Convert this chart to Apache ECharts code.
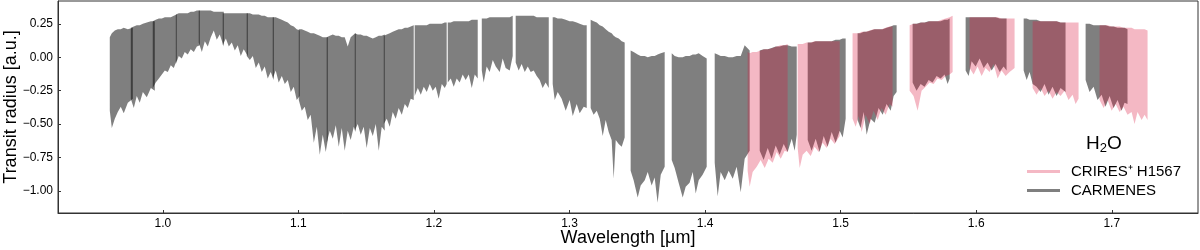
<!DOCTYPE html>
<html><head><meta charset="utf-8">
<script src="https://cdn.jsdelivr.net/npm/echarts@6/dist/echarts.min.js"></script>
<style>html,body{margin:0;padding:0;background:#fff}#c{width:1200px;height:250px}</style>
</head><body><div id="c"></div>
<script>
// CARMENES echelle orders: wavelength samples [µm], upper and lower envelope [a.u.]
const carmenesWl = [
 [0.9609,0.9624,0.9646,0.9668,0.9690,0.9712,0.9742,0.9779],
 [0.9764,0.9786,0.9808,0.9830,0.9853,0.9882,0.9912,0.9941],
 [0.9926,0.9948,0.9971,0.9993,1.0015,1.0037,1.0059,1.0081,1.0103],
 [1.0096,1.0118,1.0140,1.0162,1.0184,1.0206,1.0229,1.0251,1.0273],
 [1.0265,1.0288,1.0310,1.0332,1.0354,1.0376,1.0398,1.0420,1.0450],
 [1.0442,1.0465,1.0487,1.0509,1.0531,1.0553,1.0575,1.0597,1.0627],
 [1.0619,1.0642,1.0664,1.0686,1.0708,1.0730,1.0752,1.0774,1.0796,1.0819],
 [1.0811,1.0833,1.0855,1.0878,1.0900,1.0922,1.0944,1.0966,1.0988,1.1010],
 [1.1003,1.1025,1.1047,1.1069,1.1091,1.1114,1.1136,1.1158,1.1180,1.1202,1.1217],
 [1.1209,1.1232,1.1254,1.1276,1.1298,1.1320,1.1342,1.1364,1.1386,1.1409,1.1423],
 [1.1416,1.1438,1.1460,1.1482,1.1504,1.1527,1.1549,1.1571,1.1593,1.1615,1.1637],
 [1.1630,1.1652,1.1674,1.1696,1.1718,1.1740,1.1763,1.1785,1.1807,1.1829,1.1851],
 [1.1858,1.1881,1.1903,1.1925,1.1947,1.1969,1.1991,1.2013,1.2035,1.2058,1.2080,1.2094],
 [1.2102,1.2124,1.2146,1.2168,1.2190,1.2212,1.2234,1.2257,1.2279,1.2301,1.2323],
 [1.2353,1.2367,1.2389,1.2411,1.2434,1.2456,1.2485,1.2507,1.2529,1.2559,1.2581],
 [1.2603,1.2625,1.2647,1.2670,1.2692,1.2714,1.2736,1.2758,1.2780,1.2802,1.2824,1.2847],
 [1.2876,1.2891,1.2913,1.2942,1.2972,1.3001,1.3024,1.3053,1.3075,1.3105,1.3127],
 [1.3156,1.3178,1.3201,1.3223,1.3245,1.3267,1.3289,1.3311,1.3326,1.3341,1.3363,1.3385,1.3407],
 [1.3451,1.3473,1.3503,1.3525,1.3555,1.3577,1.3606,1.3628,1.3650,1.3673,1.3702],
 [1.3754,1.3776,1.3805,1.3835,1.3857,1.3886,1.3909,1.3931,1.3953,1.3982,1.4012],
 [1.4071,1.4093,1.4115,1.4145,1.4174,1.4204,1.4233,1.4263,1.4292,1.4329],
 [1.4403,1.4432,1.4462,1.4491,1.4521,1.4550,1.4580,1.4609,1.4639,1.4661,1.4676],
 [1.4757,1.4786,1.4816,1.4845,1.4875,1.4904,1.4934,1.4963,1.4993,1.5015,1.5037],
 [1.5125,1.5147,1.5170,1.5192,1.5221,1.5251,1.5280,1.5310,1.5339,1.5369,1.5391,1.5413],
 [1.5531,1.5560,1.5590,1.5619,1.5649,1.5678,1.5708,1.5737,1.5767,1.5789,1.5804],
 [1.5922,1.5944,1.5966,1.5996,1.6025,1.6055,1.6084,1.6114,1.6143,1.6173,1.6202,1.6224],
 [1.6350,1.6372,1.6394,1.6416,1.6445,1.6475,1.6504,1.6534,1.6563,1.6593,1.6622,1.6659],
 [1.6807,1.6836,1.6866,1.6895,1.6925,1.6954,1.6984,1.7013,1.7043,1.7072,1.7094,1.7116]
];
const carmenesTop = [
 [0.15,0.18,0.20,0.21,0.21,0.22,0.21,0.22],
 [0.22,0.23,0.24,0.24,0.25,0.26,0.27,0.27],
 [0.27,0.28,0.29,0.29,0.30,0.30,0.30,0.31,0.32],
 [0.32,0.33,0.33,0.33,0.33,0.34,0.34,0.35,0.35],
 [0.35,0.35,0.35,0.35,0.35,0.34,0.34,0.34,0.34],
 [0.33,0.33,0.33,0.33,0.33,0.33,0.33,0.33,0.33],
 [0.33,0.33,0.32,0.32,0.32,0.31,0.31,0.30,0.30,0.30],
 [0.30,0.30,0.29,0.28,0.27,0.26,0.24,0.23,0.21,0.20],
 [0.21,0.21,0.20,0.19,0.18,0.18,0.17,0.16,0.15,0.15,0.15],
 [0.15,0.16,0.17,0.16,0.16,0.15,0.15,0.08,0.15,0.17,0.18],
 [0.18,0.17,0.17,0.16,0.16,0.15,0.14,0.15,0.16,0.16,0.17],
 [0.16,0.17,0.18,0.19,0.20,0.21,0.21,0.22,0.22,0.23,0.24],
 [0.24,0.24,0.24,0.24,0.24,0.25,0.25,0.25,0.25,0.25,0.26,0.26],
 [0.26,0.26,0.27,0.27,0.27,0.27,0.27,0.27,0.28,0.28,0.28],
 [0.29,0.29,0.29,0.30,0.30,0.30,0.30,0.30,0.30,0.30,0.31],
 [0.31,0.31,0.31,0.31,0.31,0.31,0.31,0.30,0.30,0.30,0.30,0.30],
 [0.30,0.30,0.29,0.29,0.28,0.27,0.27,0.26,0.25,0.24,0.24],
 [0.28,0.27,0.26,0.24,0.23,0.21,0.19,0.18,0.16,0.15,0.14,0.12,0.11],
 [0.05,0.04,0.02,0.01,0.01,0.00,0.01,0.01,0.02,0.03,0.04],
 [0.03,0.01,0.00,0.00,0.01,0.01,0.02,0.02,0.03,0.01,-0.01],
 [0.03,0.02,0.01,0.01,0.00,0.00,0.01,0.01,0.09,0.05],
 [0.05,0.06,0.06,0.07,0.08,0.08,0.09,0.09,0.08,0.08,0.08],
 [0.11,0.11,0.12,0.12,0.12,0.12,0.12,0.13,0.13,0.14,0.14],
 [0.18,0.18,0.19,0.19,0.20,0.21,0.21,0.21,0.22,0.23,0.24,0.24],
 [0.25,0.25,0.26,0.26,0.27,0.27,0.27,0.27,0.28,0.28,0.29],
 [0.30,0.30,0.30,0.30,0.30,0.30,0.30,0.30,0.30,0.29,0.29,0.29],
 [0.29,0.29,0.28,0.28,0.28,0.27,0.27,0.27,0.27,0.27,0.26,0.26],
 [0.25,0.25,0.24,0.24,0.24,0.24,0.23,0.23,0.22,0.22,0.22,0.21]
];
const carmenesBot = [
 [-0.40,-0.53,-0.46,-0.41,-0.37,-0.42,-0.34,-0.31],
 [-0.31,-0.38,-0.29,-0.34,-0.26,-0.30,-0.23,-0.25],
 [-0.23,-0.19,-0.16,-0.13,-0.10,-0.11,-0.06,-0.08,-0.02],
 [-0.05,0.01,-0.01,0.04,0.02,0.06,0.04,0.08,0.09],
 [0.11,0.04,0.12,0.08,0.15,0.20,0.13,0.17,0.08],
 [0.09,0.14,0.08,0.11,0.05,0.09,0.01,0.06,0.01],
 [0.01,-0.02,0.01,-0.08,-0.04,-0.11,-0.07,-0.16,-0.11,-0.17],
 [-0.16,-0.10,-0.19,-0.14,-0.20,-0.17,-0.26,-0.22,-0.32,-0.29],
 [-0.32,-0.40,-0.37,-0.47,-0.43,-0.64,-0.52,-0.73,-0.58,-0.71,-0.62],
 [-0.64,-0.55,-0.61,-0.51,-0.67,-0.53,-0.70,-0.55,-0.62,-0.52,-0.56],
 [-0.55,-0.50,-0.58,-0.52,-0.68,-0.53,-0.59,-0.50,-0.70,-0.52,-0.55],
 [-0.50,-0.46,-0.52,-0.41,-0.46,-0.38,-0.43,-0.35,-0.38,-0.31,-0.32],
 [-0.29,-0.23,-0.28,-0.22,-0.26,-0.20,-0.25,-0.22,-0.31,-0.20,-0.23,-0.20],
 [-0.19,-0.16,-0.22,-0.16,-0.19,-0.13,-0.17,-0.13,-0.23,-0.13,-0.16],
 [-0.10,-0.19,-0.07,-0.11,-0.02,-0.07,-0.11,-0.01,-0.08,-0.10,0.01],
 [-0.04,-0.10,-0.05,-0.11,-0.07,-0.11,-0.10,-0.14,-0.17,-0.23,-0.19,-0.23],
 [-0.20,-0.32,-0.26,-0.31,-0.40,-0.32,-0.44,-0.35,-0.42,-0.37,-0.38],
 [-0.38,-0.43,-0.40,-0.46,-0.59,-0.47,-0.56,-0.62,-0.91,-0.62,-0.65,-0.67,-0.60],
 [-0.85,-0.92,-1.05,-0.96,-0.92,-0.86,-0.96,-0.90,-1.09,-0.88,-0.82],
 [-0.77,-0.83,-0.94,-1.05,-0.97,-0.94,-0.86,-1.02,-0.92,-0.88,-0.82],
 [-0.79,-1.04,-0.86,-0.92,-0.85,-0.91,-0.82,-1.01,-0.76,-0.70],
 [-0.70,-0.77,-0.68,-0.76,-0.66,-0.73,-0.65,-0.71,-0.61,-0.70,-0.58],
 [-0.62,-0.70,-0.61,-0.71,-0.59,-0.67,-0.56,-0.64,-0.55,-0.60,-0.46],
 [-0.47,-0.53,-0.41,-0.58,-0.46,-0.49,-0.38,-0.43,-0.35,-0.40,-0.29,-0.26],
 [-0.19,-0.25,-0.20,-0.22,-0.17,-0.19,-0.14,-0.16,-0.13,-0.20,-0.16],
 [-0.10,-0.14,-0.03,-0.07,-0.01,-0.08,-0.04,-0.10,-0.05,-0.11,-0.07,-0.10],
 [-0.10,-0.17,-0.11,-0.20,-0.22,-0.26,-0.20,-0.28,-0.22,-0.29,-0.23,-0.26],
 [-0.17,-0.26,-0.22,-0.32,-0.28,-0.37,-0.29,-0.38,-0.32,-0.40,-0.34,-0.35]
];
// CRIRES+ H1567 orders
const criresWl = [
 [1.4314,1.4329,1.4351,1.4381,1.4410,1.4440,1.4469,1.4499,1.4528,1.4558,1.4587,1.4609],
 [1.4683,1.4698,1.4720,1.4749,1.4779,1.4808,1.4838,1.4867,1.4897,1.4926,1.4956,1.4993],
 [1.5088,1.5111,1.5133,1.5155,1.5184,1.5214,1.5243,1.5273,1.5302,1.5332,1.5361,1.5383],
 [1.5509,1.5538,1.5568,1.5597,1.5627,1.5656,1.5686,1.5715,1.5745,1.5774,1.5804,1.5826],
 [1.5951,1.5981,1.6010,1.6040,1.6069,1.6099,1.6128,1.6158,1.6187,1.6217,1.6246,1.6283],
 [1.6416,1.6445,1.6475,1.6504,1.6534,1.6563,1.6593,1.6622,1.6652,1.6681,1.6711,1.6733,1.6755],
 [1.6910,1.6940,1.6969,1.6999,1.7028,1.7058,1.7087,1.7116,1.7146,1.7168,1.7190,1.7220,1.7242,1.7264]
];
const criresTop = [
 [0.04,0.03,0.04,0.04,0.05,0.06,0.06,0.07,0.08,0.09,0.09,0.10],
 [0.10,0.10,0.10,0.11,0.11,0.12,0.12,0.12,0.12,0.12,0.12,0.12],
 [0.18,0.18,0.18,0.19,0.19,0.20,0.21,0.21,0.21,0.22,0.23,0.23],
 [0.24,0.25,0.25,0.26,0.26,0.27,0.27,0.27,0.28,0.29,0.30,0.31],
 [0.30,0.30,0.30,0.30,0.30,0.30,0.30,0.30,0.29,0.29,0.29,0.29],
 [0.27,0.27,0.27,0.27,0.27,0.27,0.27,0.26,0.26,0.26,0.26,0.26,0.26],
 [0.24,0.24,0.24,0.23,0.23,0.23,0.22,0.22,0.22,0.21,0.21,0.21,0.21,0.20]
];
const criresBot = [
 [-0.85,-0.97,-0.86,-0.82,-0.77,-0.83,-0.76,-0.79,-0.71,-0.76,-0.70,-0.71],
 [-0.68,-0.83,-0.73,-0.70,-0.74,-0.67,-0.71,-0.64,-0.68,-0.61,-0.65,-0.59],
 [-0.46,-0.52,-0.44,-0.56,-0.43,-0.50,-0.40,-0.47,-0.38,-0.43,-0.35,-0.37],
 [-0.25,-0.29,-0.40,-0.25,-0.22,-0.19,-0.20,-0.16,-0.17,-0.14,-0.13,-0.11],
 [-0.08,-0.13,-0.07,-0.14,-0.08,-0.11,-0.05,-0.16,-0.10,-0.14,-0.11,-0.08],
 [-0.23,-0.28,-0.23,-0.29,-0.25,-0.31,-0.26,-0.29,-0.25,-0.32,-0.28,-0.35,-0.31],
 [-0.32,-0.38,-0.32,-0.40,-0.35,-0.41,-0.37,-0.43,-0.41,-0.50,-0.41,-0.47,-0.43,-0.47]
];
const xTicks = [1.0, 1.1, 1.2, 1.3, 1.4, 1.5, 1.6, 1.7];
const yTicks = [-1.0, -0.75, -0.5, -0.25, 0.0, 0.25];
const seriesNames = ['CRIRES\u207A H1567', 'CARMENES'];

const FONT = '"Liberation Sans", Arial, Helvetica, sans-serif';

function bandSeries(name, wls, tops, bots, color) {
  return {
    name: name, type: 'custom', coordinateSystem: 'cartesian2d', clip: true,
    itemStyle: { color: color },
    data: wls.map((w, i) => [w[0], tops[i][0]]),
    renderItem: function (params, api) {
      const i = params.dataIndex;
      const w = wls[i], t = tops[i], b = bots[i];
      const pts = [];
      for (let k = 0; k < w.length; k++) pts.push(api.coord([w[k], t[k]]));
      for (let k = w.length - 1; k >= 0; k--) pts.push(api.coord([w[k], b[k]]));
      return { type: 'polygon', shape: { points: pts }, style: { fill: color } };
    }
  };
}

const chart = echarts.init(document.getElementById('c'), null, { renderer: 'canvas' });
chart.setOption({
  animation: false,
  backgroundColor: '#fff',
  textStyle: { fontFamily: FONT },
  grid: { left: 58, right: 2, top: 1, bottom: 37, show: true, borderColor: '#333', borderWidth: 1,
          containLabel: false, outerBoundsMode: 'none' },
  xAxis: {
    type: 'value', min: 0.9227, max: 1.7636,
    axisLine: { show: true, onZero: false, lineStyle: { color: '#333', width: 1 } },
    axisTick: { show: true, inside: true, length: 3, customValues: xTicks, lineStyle: { color: '#333' } },
    axisLabel: { customValues: xTicks, formatter: v => v.toFixed(1), fontSize: 12, color: '#000', margin: 5, fontFamily: FONT },
    splitLine: { show: false },
    name: 'Wavelength [µm]', nameLocation: 'middle', nameGap: 16, nameMoveOverlap: false,
    nameTextStyle: { fontSize: 18, color: '#000', fontFamily: FONT, verticalAlign: 'top' }
  },
  yAxis: {
    type: 'value', min: -1.166, max: 0.421,
    axisLine: { show: true, onZero: false, lineStyle: { color: '#333', width: 1 } },
    axisTick: { show: true, inside: true, length: 3, customValues: yTicks, lineStyle: { color: '#333' } },
    axisLabel: { customValues: yTicks, formatter: v => (v < 0 ? '\u2212' : '') + Math.abs(v).toFixed(2), fontSize: 12, color: '#000', margin: 5, fontFamily: FONT },
    splitLine: { show: false },
    name: 'Transit radius [a.u.]', nameLocation: 'middle', nameGap: 38, nameMoveOverlap: false,
    nameTextStyle: { fontSize: 18, color: '#000', fontFamily: FONT }
  },
  legend: {
    data: seriesNames, orient: 'vertical', left: 1027, top: 164, padding: 0,
    icon: 'rect', itemWidth: 33, itemHeight: 3, itemGap: 4,
    textStyle: { fontSize: 15, color: '#000', fontFamily: FONT, padding: [0, 0, 0, 6] }
  },
  graphic: [{
    type: 'text', left: 1086, top: 134,
    style: {
      text: '{a|H}{s|2}{a|O}', fontFamily: FONT,
      rich: { a: { fontSize: 19, lineHeight: 22, fill: '#000', fontFamily: FONT },
              s: { fontSize: 13, lineHeight: 13, fill: '#000', verticalAlign: 'bottom', fontFamily: FONT } }
    }
  }],
  series: [
    bandSeries(seriesNames[1], carmenesWl, carmenesTop, carmenesBot, 'rgba(0,0,0,0.5)'),
    bandSeries(seriesNames[0], criresWl, criresTop, criresBot, 'rgba(220,20,60,0.3)')
  ]
});
</script></body></html>
